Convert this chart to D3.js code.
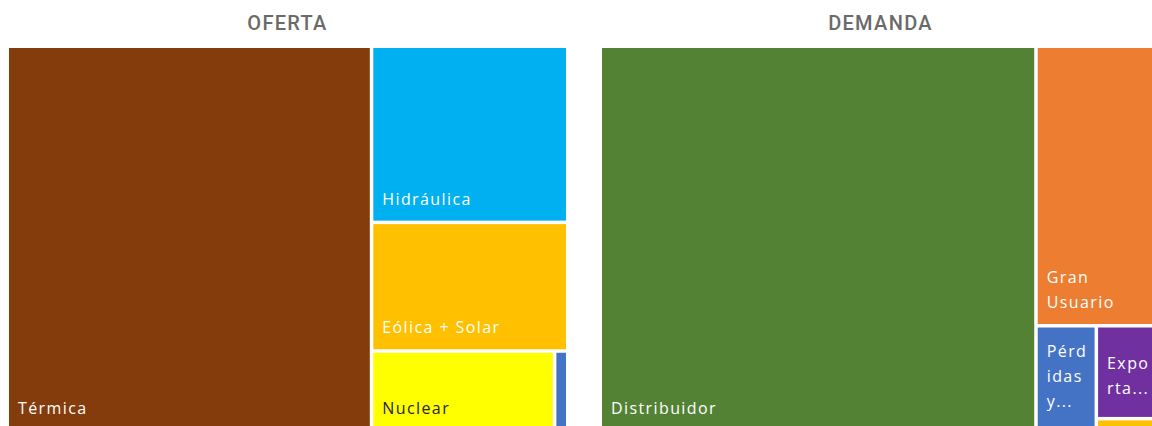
<!DOCTYPE html>
<html>
<head>
<meta charset="utf-8">
<script src="https://cdn.jsdelivr.net/npm/d3@7"></script>
<style>
  html, body { margin: 0; padding: 0; background: #ffffff; }
  svg { display: block; }
</style>
</head>
<body>
<svg id="chart" width="1152" height="426"></svg>
<script>
// ---- Data ----
const ofertaCategorias = ["Térmica", "Hidráulica", "Eólica + Solar", "Nuclear", "Importación"];
const ofertaValores    = [64.99, 15.99, 11.68, 6.84, 0.49];
const ofertaColores    = ["#843C0C", "#00B0F0", "#FFC000", "#FFFF00", "#4472C4"];

const demandaCategorias = ["Distribuidor", "Gran Usuario", "Pérdidas y Bombeo", "Exportación", "Otros"];
const demandaValores    = [77.74, 16.14, 2.96, 2.77, 0.39];
const demandaColores    = ["#548235", "#ED7D31", "#4472C4", "#7030A0", "#FFC000"];

const titulos = ["OFERTA", "DEMANDA"];

// ---- Layout ----
const svg = d3.select("#chart");
const panelW = 557, panelH = 382, panelTop = 48;
const panels = [
  { x: 9,   title: titulos[0], cats: ofertaCategorias,  vals: ofertaValores,  cols: ofertaColores },
  { x: 602, title: titulos[1], cats: demandaCategorias, vals: demandaValores, cols: demandaColores }
];

const FONT = "'Open Sans', 'DejaVu Sans', sans-serif";
const FS = 16, LS = 1.4, LINE_H = 25, PADX = 9, BOTTOM = 16;

// measurement helper
const meas = svg.append("text")
  .attr("font-family", FONT).attr("font-size", FS)
  .style("letter-spacing", LS + "px")
  .attr("visibility", "hidden");
function tw(s) { meas.text(s); return meas.node().getComputedTextLength(); }

function wrap(text, maxW, maxLines) {
  const words = text.split(" ");
  let lines = [], cur = "";
  for (const w of words) {
    const trial = cur ? cur + " " + w : w;
    if (tw(trial) <= maxW) { cur = trial; continue; }
    if (cur) { lines.push(cur); cur = ""; }
    if (tw(w) <= maxW) { cur = w; continue; }
    let chunk = "";
    for (const ch of w) {
      if (tw(chunk + ch) <= maxW) chunk += ch;
      else { lines.push(chunk); chunk = ch; }
    }
    cur = chunk;
  }
  if (cur) lines.push(cur);
  let truncated = false;
  if (lines.length > maxLines) {
    truncated = true;
    lines = lines.slice(0, Math.max(1, maxLines));
    let last = lines[lines.length - 1];
    while (last.length > 0 && tw(last + "...") > maxW) last = last.slice(0, -1);
    lines[lines.length - 1] = last + "...";
  }
  return { lines, truncated };
}

const clipDefs = svg.append("defs");
let clipId = 0;

panels.forEach((p) => {
  const g = svg.append("g").attr("transform", `translate(${p.x},${panelTop})`);

  svg.append("text")
    .attr("x", p.x + panelW / 2)
    .attr("y", 30)
    .attr("text-anchor", "middle")
    .attr("font-family", "Roboto, 'DejaVu Sans', sans-serif")
    .attr("font-weight", 500)
    .attr("font-size", 20)
    .style("letter-spacing", "1.3px")
    .attr("fill", "#6a6a6a")
    .text(p.title);

  const data = { name: p.title, children: p.cats.map((c, i) => ({ name: c, value: p.vals[i], color: p.cols[i] })) };
  const root = d3.hierarchy(data).sum(d => d.value || 0).sort((a, b) => b.value - a.value);
  d3.treemap()
    .tile(d3.treemapSquarify.ratio(1))
    .size([panelW, panelH])
    .paddingInner(3.5)
    .round(false)(root);

  const leaves = root.leaves();
  const cell = g.selectAll("g.cell").data(leaves).join("g").attr("class", "cell");

  cell.append("rect")
    .attr("x", d => d.x0).attr("y", d => d.y0)
    .attr("width", d => d.x1 - d.x0).attr("height", d => d.y1 - d.y0)
    .attr("fill", d => d.data.color);

  cell.each(function(d) {
    const w = d.x1 - d.x0, h = d.y1 - d.y0;
    if (w < 30 || h < 30) return;
    const id = "clip" + (clipId++);
    clipDefs.append("clipPath").attr("id", id)
      .append("rect").attr("x", p.x + d.x0).attr("y", panelTop + d.y0).attr("width", w).attr("height", h);
    const maxLines = Math.max(1, Math.floor((h - 20) / LINE_H));
    const res = wrap(d.data.name, w - 2 * PADX + 2, maxLines);
    const lines = res.lines;
    const lift = res.truncated ? 7 : 0;
    const dark = d.data.color === "#FFFF00";
    const t = d3.select(this).append("text")
      .attr("font-family", FONT).attr("font-size", FS)
      .style("letter-spacing", LS + "px")
      .attr("fill", dark ? "#262626" : "#ffffff")
      .attr("clip-path", `url(#${id})`)
      .attr("transform", `translate(${-p.x},${-panelTop})`);
    const n = lines.length;
    lines.forEach((ln, i) => {
      t.append("tspan")
        .attr("x", p.x + d.x0 + PADX)
        .attr("y", panelTop + d.y1 - BOTTOM - lift - (n - 1 - i) * LINE_H)
        .text(ln);
    });
  });
});
meas.remove();
</script>
</body>
</html>
